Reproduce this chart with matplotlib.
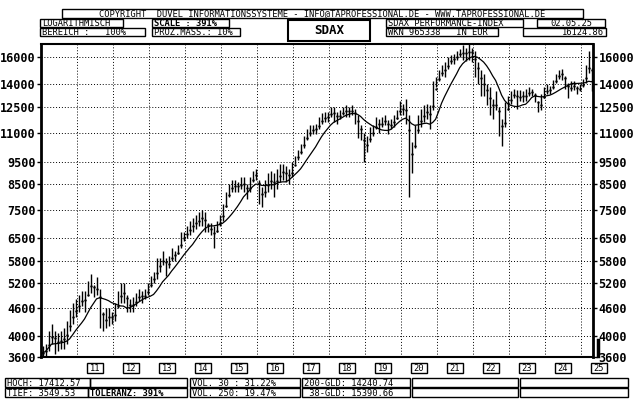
import numpy as np
import pandas as pd
import matplotlib
matplotlib.use("Agg")
import matplotlib.pyplot as plt
from matplotlib.patches import Rectangle

# monthly high / low, Jan 2010 .. May 2025
highs = [
 3800,3850,4100,4250,4100,4050,4100,4150,4300,4550,4700,4800,
 4900,5000,5000,5250,5450,5150,5350,5050,4500,4600,4600,4500,
 4700,5000,5200,5200,4900,4800,4850,4950,5050,5000,5050,5200,
 5400,5500,5900,5900,6100,5900,5950,6200,6100,6300,6700,6700,
 6900,7100,7200,7300,7400,7500,7400,7000,7000,6900,7100,7300,
 7700,8200,8500,8700,8700,8600,8800,8800,8500,8800,9100,9200,
 8700,8400,8700,9000,9100,9000,9200,9400,9400,9300,9200,9500,
 9800,10100,10400,10800,11200,11400,11400,11500,11900,12100,12200,12200,
 12500,12500,12200,12300,12500,12600,12500,12600,12400,12000,11400,11000,
 10800,11300,11400,11900,11800,11900,12000,11700,11800,12000,12300,12900,
 12700,13000,12000,10500,11400,12000,12400,12600,12700,12600,14200,14500,
 15000,15400,15600,16000,16200,16300,16500,16700,17000,16800,17400,16800,
 16500,15600,15000,14700,14000,13800,13000,13500,12500,11800,12800,13200,
 13500,13700,13600,13600,13500,13700,13800,13700,13400,12800,13300,13800,
 14000,13900,14300,14700,15000,15100,14600,14100,14200,14200,13900,14000,
 14400,15400,16500,15200,16300]
lows = [
 3550,3600,3700,3850,3650,3700,3750,3750,3850,4100,4250,4400,
 4500,4650,4500,4900,4950,4850,4900,4150,4100,4150,4200,4250,
 4300,4600,4700,4700,4500,4500,4500,4650,4750,4700,4800,4900,
 5100,5200,5300,5500,5700,5400,5600,5800,5800,6000,6200,6400,
 6500,6600,6700,6800,6900,6900,6700,6700,6600,6200,6700,6900,
 7100,7600,8000,8200,8200,8200,8300,8200,7900,8200,8600,8700,
 7700,7600,8000,8200,8300,8000,8300,8600,8700,8600,8500,8800,
 9400,9600,9900,10200,10600,10800,10900,10900,11200,11500,11600,11600,
 11900,11600,11500,11800,12000,11900,11900,12000,11500,10700,10600,9500,
 10000,10500,10800,11200,11000,11300,11400,10900,11200,11300,11800,12000,
 12000,11500,8000,9000,10200,11000,11300,11600,11800,11200,12300,13800,
 14200,14600,14500,15100,15500,15500,15800,16000,15800,15700,15800,15600,
 14500,14000,13200,13200,12600,12000,11800,12300,10800,10300,11300,12300,
 12700,13100,12400,12900,12800,12900,13200,13200,12800,12200,12300,13100,
 13300,13300,13700,14100,14400,14300,13700,13100,13500,13600,13300,13500,
 13800,14100,14800,13500,15000]
yticks = [3600,4000,4600,5200,5800,6500,7500,8500,9500,11000,12500,14000,16000]
years = ["11","12","13","14","15","16","17","18","19","20","21","22","23","24","25"]

n = len(highs)
x = 2010 + (np.arange(n) + 0.5) / 12
mid = (np.array(highs) + np.array(lows)) / 2
ma200 = pd.Series(mid).rolling(10, min_periods=1).mean().values
ma38 = pd.Series(mid).rolling(2, min_periods=1).mean().values

fig = plt.figure(figsize=(6.4, 4.0), dpi=100)
ov = fig.add_axes([0, 0, 1, 1])
ov.set_xlim(0, 640); ov.set_ylim(400, 0); ov.axis("off")
mono = "DejaVu Sans Mono"

def box(x0, y0, x1, y1, text="", bold=False, size=6.3, ha="left", lw=1.0):
    ov.add_patch(Rectangle((x0, y0), x1 - x0, y1 - y0, fill=False, lw=lw, ec="black"))
    if text:
        tx = x0 + 2 if ha == "left" else (x1 - 2 if ha == "right" else (x0 + x1) / 2)
        ov.text(tx, (y0 + y1) / 2 + 0.5, text, ha=ha, va="center", family=mono,
                fontsize=size, fontweight="bold" if bold else "normal")

box(62, 9, 583, 18, "COPYRIGHT  DUVEL INFORMATIONSSYSTEME - INFO@TAPROFESSIONAL.DE - WWW.TAPROFESSIONAL.DE", ha="center")
box(40, 19, 123, 27, "LOGARITHMISCH")
box(40, 28, 145, 36, "BEREICH :   100%")
box(152, 19, 229, 27, "SCALE : 391%", bold=True)
box(152, 28, 240, 36, "PROZ.MASS.: 10%")
box(288, 20, 370, 41, "SDAX", bold=True, size=9, ha="center", lw=1.5)
box(386, 19, 523, 27, "SDAX PERFORMANCE-INDEX")
box(386, 28, 498, 36, "WKN 965338   IN EUR")
box(537, 19, 605, 27, "02.05.25", ha="center")
box(523, 28, 606, 36, "16124.86", ha="right")

box(5, 378, 90, 387, "HOCH: 17412.57")
box(5, 388, 88, 397, "TIEF: 3549.53")
box(90, 378, 187, 387)
box(88, 388, 187, 397, "TOLERANZ: 391%", bold=True)
box(190, 378, 300, 387, "VOL. 30 : 31.22%")
box(190, 388, 300, 397, "VOL. 250: 19.47%")
box(302, 378, 410, 387, "200-GLD: 14240.74")
box(302, 388, 410, 397, " 38-GLD: 15390.66")
box(412, 378, 518, 387); box(412, 388, 518, 397)
box(520, 378, 628, 387); box(520, 388, 628, 397)
for i, yl in enumerate(years):
    cx = 95 + 36 * i
    box(cx - 8, 363, cx + 8, 373, yl, ha="center")
box(564, 326, 583, 334, "10%", ha="center")
ov.plot([598, 598], [340, 356], color="black", lw=2.5)

ax = fig.add_axes([41/640, 43/400, 552/640, 313/400])
ax.set_yscale("log")
ax.set_xlim(2010.0, 2025.33)
ax.set_ylim(3600, 17100)
ax.vlines(x, lows, highs, color="black", lw=1.0)
ax.plot(x, ma200, color="black", lw=0.9)
ax.plot(x, ma38, color="black", lw=0, marker=".", ms=1.5)
ax.set_yticks(yticks)
ax.set_yticklabels([str(v) for v in yticks])
ax.yaxis.set_minor_locator(matplotlib.ticker.NullLocator())
ax.set_xticks(range(2011, 2026))
ax.set_xticklabels([])
ax.tick_params(axis="x", length=0)
ax.tick_params(axis="y", which="both", labelleft=True, labelright=True, left=True, right=True,
               length=3, width=1, pad=1, labelsize=8.5)
for lab in ax.get_yticklabels():
    lab.set_family(mono); lab.set_fontweight("bold")
ax.grid(True, color="black", ls=(0, (1, 2)), lw=0.7)
for s in ["left", "right"]:
    ax.spines[s].set_linewidth(2)
ax.spines["bottom"].set_linewidth(1.5)
ax.spines["top"].set_linewidth(1.5)

fig.savefig("out.png", dpi=100)
